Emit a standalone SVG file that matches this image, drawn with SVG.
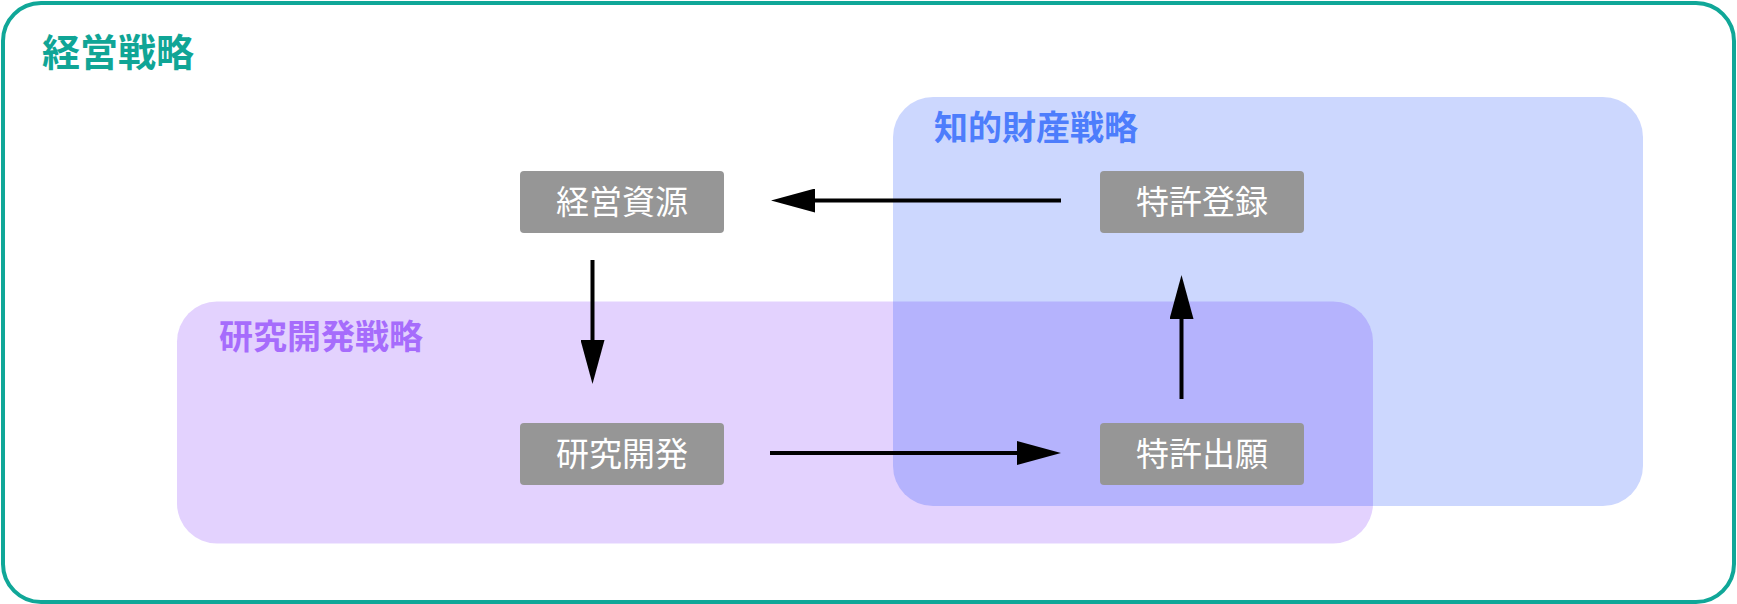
<svg xmlns="http://www.w3.org/2000/svg" width="1737" height="604" viewBox="0 0 1737 604">
<style>
.t{font-family:"Noto Sans CJK JP","Noto Sans",sans-serif;}
.node rect{fill:#969696;}
.node text{fill:#ffffff;font-size:33px;text-anchor:middle;}
.lbl{font-weight:bold;font-size:34px;}
.conn line{stroke:#000;stroke-width:4;fill:none;}
</style>
<defs>
<marker id="ah" viewBox="0 0 44 24" refX="1" refY="12" markerWidth="44" markerHeight="24" markerUnits="userSpaceOnUse" orient="auto">
<path d="M0,0 L44,12 L0,24 z" fill="#000"/>
</marker>
</defs>
<g id="keiei-senryaku">
<rect x="3" y="3" width="1731" height="599" rx="38" fill="#ffffff" stroke="#10a798" stroke-width="4"/>
<text class="t" x="42" y="66" font-size="38" font-weight="bold" fill="#10a596">経営戦略</text>
</g>
<g id="kenkyu-senryaku">
<rect x="177" y="301.5" width="1196" height="242" rx="40" fill="rgb(115,30,250)" fill-opacity="0.2"/>
<text class="t lbl" x="219" y="349" fill="#a66cfc">研究開発戦略</text>
</g>
<g id="chiteki-senryaku">
<rect x="893" y="97" width="750" height="409" rx="40" fill="rgb(0,55,250)" fill-opacity="0.2"/>
<text class="t lbl" x="934" y="140" fill="#4d7dfc">知的財産戦略</text>
</g>
<g id="keiei-shigen" class="node">
<rect x="520" y="171" width="204" height="62" rx="4"/>
<text class="t" x="622" y="214">経営資源</text>
</g>
<g id="tokkyo-toroku" class="node">
<rect x="1100" y="171" width="204" height="62" rx="4"/>
<text class="t" x="1202" y="214">特許登録</text>
</g>
<g id="kenkyu-kaihatsu" class="node">
<rect x="520" y="423" width="204" height="62" rx="4"/>
<text class="t" x="622" y="466">研究開発</text>
</g>
<g id="tokkyo-shutsugan" class="node">
<rect x="1100" y="423" width="204" height="62" rx="4"/>
<text class="t" x="1202" y="466">特許出願</text>
</g>
<g id="connectors" class="conn">
<line x1="1061" y1="200.5" x2="814" y2="200.5" marker-end="url(#ah)"/>
<line x1="592.5" y1="260" x2="592.5" y2="341" marker-end="url(#ah)"/>
<line x1="770" y1="453" x2="1018" y2="453" marker-end="url(#ah)"/>
<line x1="1181.5" y1="399" x2="1181.5" y2="318" marker-end="url(#ah)"/>
</g>
</svg>
